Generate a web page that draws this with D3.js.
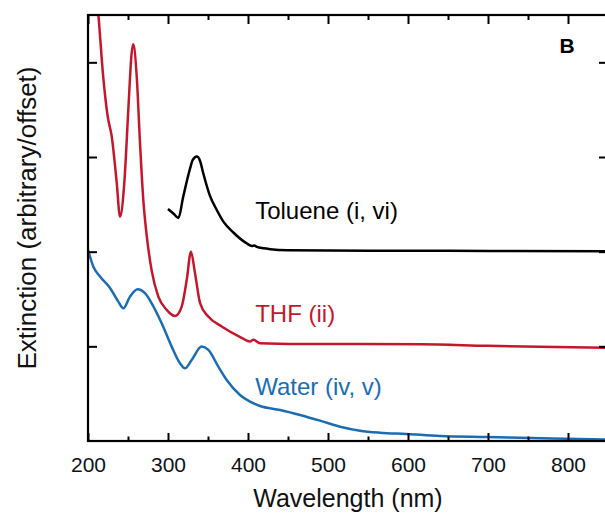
<!DOCTYPE html>
<html>
<head>
<meta charset="utf-8">
<script src="https://cdn.jsdelivr.net/npm/d3@7"></script>
<style>
  html, body { margin: 0; padding: 0; background: #fff; }
  svg { display: block; }
  text { font-family: "Liberation Sans", Arial, Helvetica, sans-serif; }
</style>
</head>
<body>
<svg id="chart" width="605" height="514"></svg>
<script>
// ---- Data (wavelength nm, extinction arbitrary/offset) ----
const toluene = [
  [300,2.45],[307,2.40],[313,2.355],[319,2.58],[327,2.86],[331,2.97],[336,3.005],
  [340,2.96],[344,2.83],[352,2.60],[361,2.44],[369,2.32],[382,2.20],[398,2.09],
  [405,2.06],[408,2.065],[411,2.05],[420,2.035],[428,2.025],[450,2.015],[500,2.012],
  [600,2.01],[700,2.008],[850,2.005]
];
const thf = [
  [208,4.95],[213,4.50],[219,3.85],[224.6,3.43],[229.6,3.22],[235.9,2.73],[240,2.37],
  [245.4,2.73],[250.4,3.50],[254.6,4.10],[256.6,4.19],[260.9,3.85],[265,3.15],
  [269.1,2.55],[273.4,2.17],[279.6,1.80],[287.9,1.525],[298.4,1.385],[308.7,1.32],
  [317.1,1.42],[323.4,1.70],[328.7,2.00],[333.7,1.776],[340,1.46],[350.4,1.314],
  [367.1,1.21],[392.1,1.09],[402.5,1.05],[406.6,1.07],[415,1.033],[465,1.025],
  [615,1.022],[700,1.005],[850,0.985]
];
const water = [
  [200,2.02],[206.6,1.843],[215,1.737],[227.5,1.617],[237.9,1.472],[244.1,1.402],
  [252.5,1.525],[262.1,1.603],[271.2,1.561],[279.6,1.455],[292.1,1.244],[304.6,0.997],
  [315,0.821],[321.2,0.768],[329.6,0.856],[342.1,0.997],[350.4,0.962],[362.9,0.786],
  [373.4,0.645],[390,0.486],[402.5,0.416],[415,0.370],[440,0.328],[465,0.275],
  [490,0.215],[515,0.151],[540,0.109],[565,0.088],[598,0.074],[640,0.053],
  [699,0.042],[781,0.026],[850,0.015]
];
const seriesNames = ["Toluene (i, vi)", "THF (ii)", "Water (iv, v)"];
const seriesColors = ["#000000", "#c4172c", "#1a6db5"];
const labelPos = [[409, 2.345], [409, 1.255], [409, 0.49]]; // (nm, value) anchor of annotation
const xMajorTicks = [200, 300, 400, 500, 600, 700, 800];
const xMinorTicks = [250, 350, 450, 550, 650, 750, 850];
const yTicks = [1, 2, 3, 4];

// ---- Layout ----
const svg = d3.select("#chart");
const mLeft = 88, mRight = 608, mTop = 15, mBottom = 441;
const x = d3.scaleLinear().domain([200, 850]).range([mLeft, mRight]);
const y = d3.scaleLinear().domain([0, 4.5]).range([mBottom, mTop]);

svg.append("defs").append("clipPath").attr("id", "plotclip")
  .append("rect").attr("x", mLeft).attr("y", mTop)
  .attr("width", mRight - mLeft).attr("height", mBottom - mTop);

// curves
const line = d3.line().x(d => x(d[0])).y(d => y(d[1])).curve(d3.curveMonotoneX);
const g = svg.append("g").attr("clip-path", "url(#plotclip)");
[toluene, thf, water].forEach((s, i) => {
  g.append("path").datum(s).attr("d", line)
    .attr("fill", "none").attr("stroke", seriesColors[i])
    .attr("stroke-width", 2.5).attr("stroke-linejoin", "round");
});

// axes
function styleTicks(sel) {
  sel.select(".domain").remove();
  sel.selectAll(".tick line").attr("stroke", "#000").attr("stroke-width", 2);
}
const ax = svg.append("g");
const gb = ax.append("g").attr("transform", `translate(0,${mBottom})`)
  .call(d3.axisBottom(x).tickValues(xMajorTicks).tickSizeInner(-8).tickSizeOuter(0).tickPadding(16));
styleTicks(gb);
gb.selectAll(".tick text").attr("font-size", 21).attr("fill", "#111")
  .attr("font-family", "Liberation Sans, Arial, sans-serif");
const gbm = ax.append("g").attr("transform", `translate(0,${mBottom})`)
  .call(d3.axisBottom(x).tickValues(xMinorTicks).tickSizeInner(-4.5).tickSizeOuter(0).tickFormat(""));
styleTicks(gbm);

const gt = ax.append("g").attr("transform", `translate(0,${mTop})`)
  .call(d3.axisTop(x).tickValues(xMajorTicks).tickSizeInner(-9).tickSizeOuter(0).tickFormat(""));
styleTicks(gt);
const gtm = ax.append("g").attr("transform", `translate(0,${mTop})`)
  .call(d3.axisTop(x).tickValues(xMinorTicks).tickSizeInner(-5).tickSizeOuter(0).tickFormat(""));
styleTicks(gtm);

const gl = ax.append("g").attr("transform", `translate(${mLeft},0)`)
  .call(d3.axisLeft(y).tickValues(yTicks).tickSizeInner(-9).tickSizeOuter(0).tickFormat(""));
styleTicks(gl);
const gr = ax.append("g").attr("transform", `translate(${mRight},0)`)
  .call(d3.axisRight(y).tickValues(yTicks).tickSizeInner(-9).tickSizeOuter(0).tickFormat(""));
styleTicks(gr);

// frame
svg.append("rect").attr("x", mLeft).attr("y", mTop)
  .attr("width", mRight - mLeft).attr("height", mBottom - mTop)
  .attr("fill", "none").attr("stroke", "#000").attr("stroke-width", 2.2);

// annotations
seriesNames.forEach((n, i) => {
  svg.append("text").attr("x", x(labelPos[i][0])).attr("y", y(labelPos[i][1]))
    .attr("font-size", 24).attr("fill", seriesColors[i]).text(n);
});

svg.append("text").attr("x", 567).attr("y", 53).attr("text-anchor", "middle")
  .attr("font-size", 21).attr("font-weight", "bold").attr("fill", "#000").text("B");

// axis titles
svg.append("text").attr("x", 348).attr("y", 507).attr("text-anchor", "middle")
  .attr("font-size", 25).attr("fill", "#111").text("Wavelength (nm)");
svg.append("text").attr("transform", "translate(36,218) rotate(-90)")
  .attr("text-anchor", "middle").attr("font-size", 26).attr("fill", "#111")
  .text("Extinction (arbitrary/offset)");
</script>
</body>
</html>
